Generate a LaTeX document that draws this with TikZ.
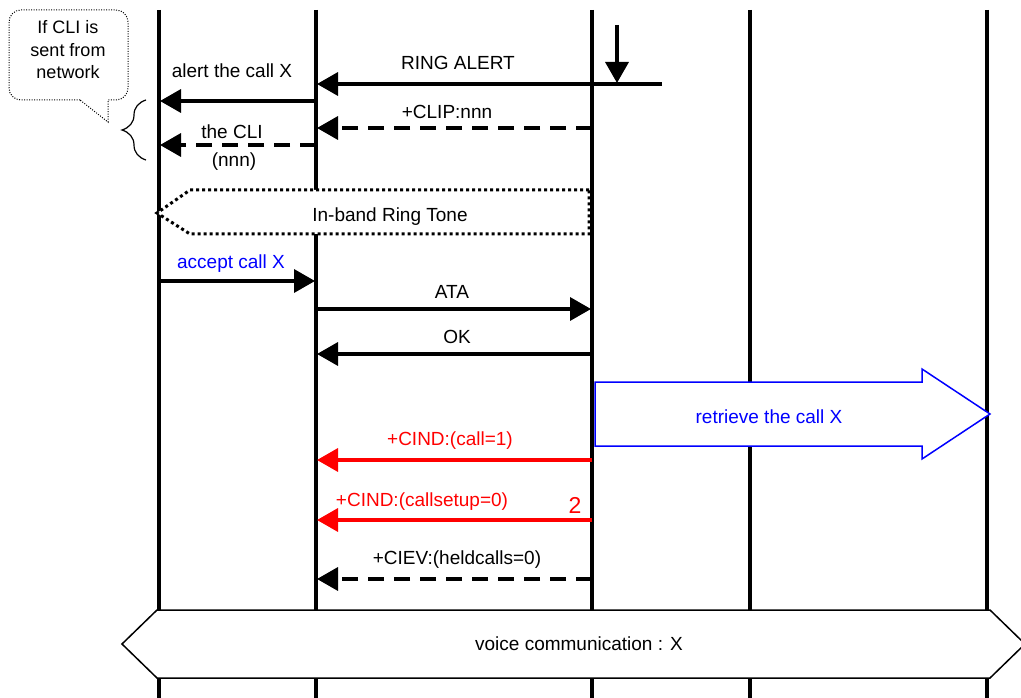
\documentclass[tikz,border=0pt]{standalone}
\usepackage{fontspec}
\setmainfont{Liberation Sans}
\usetikzlibrary{arrows.meta,decorations.pathreplacing}
\begin{document}
\begin{tikzpicture}[x=1pt,y=-1pt,
  life/.style={line width=4.5pt},
  msg/.style={line width=3.5pt,-{Triangle[length=21pt,width=23pt]},shorten >=1pt},
  dmsg/.style={msg,dash pattern=on 16pt off 10pt},
  redmsg/.style={msg,red},
  lbl/.style={font=\fontsize{19}{22}\selectfont,inner sep=0pt},
  dotbox/.style={line width=3pt,dash pattern=on 3pt off 3pt,fill=white},
  calloutline/.style={line width=1pt,dash pattern=on 1pt off 1.5pt,fill=white},
  bigarrow/.style={draw=blue,line width=1.5pt,fill=white},
  hexbox/.style={draw=black,line width=1.5pt,fill=white}]
\useasboundingbox (0,0) rectangle (1021,698);
% lifelines
\foreach \n/\x in {1/159,2/316,3/592,4/750,5/987}{
  \coordinate (T\n) at (\x,10);
  \coordinate (B\n) at (\x,698);
  \draw[life] (T\n) -- (B\n);
}
% callout
\draw[calloutline] (80,100) [rounded corners=12pt] -- (9,100) -- (9,10) -- (128,10) -- (128,100) [sharp corners] -- (108,100) -- (108,122) -- cycle;
\node[lbl,align=center,font=\fontsize{18}{22.5}\selectfont] (callout) at (68,50) {If CLI is\\sent from\\network};
% brace
\coordinate (brb) at (146,160);
\coordinate (brt) at (146,100);
\draw[line width=1.2pt,decorate,decoration={brace,amplitude=24pt}] (brb) -- (brt);
% RING ALERT
\coordinate (ra) at (662,84);
\draw[msg] (ra) -- (ra -| T2);
\coordinate (vt) at (617,25);
\draw[msg] (vt) -- (vt |- ra);
\node[lbl] (lra) at (458,63) {RING ALERT};
% alert the call X
\coordinate (m1) at (316,101);
\draw[msg] (m1) -- (m1 -| T1);
\node[lbl] (lm1) at (232,71) {alert the call X};
% +CLIP
\coordinate (m2) at (592,128);
\draw[dmsg] (m2) -- (m2 -| T2);
\node[lbl] (lm2) at (447,112) {+CLIP:nnn};
% the CLI
\coordinate (m3) at (316,145);
\draw[dmsg] (m3) -- (m3 -| T1);
\node[lbl] (lm3) at (232,132) {the CLI};
\node[lbl] (lm3b) at (234,162) {(nnn)};
% In-band ring tone
\draw[dotbox] (589,190) -- (190,190) -- (157,213) -- (190,234) -- (589,234) -- cycle;
\node[lbl] (libt) at (390,217) {In-band Ring Tone};
% accept call X
\coordinate (m4) at (159,281);
\draw[msg] (m4) -- (m4 -| T2);
\node[lbl,text=blue] (lm4) at (231,264) {accept call X};
% ATA
\coordinate (m5) at (316,309);
\draw[msg] (m5) -- (m5 -| T3);
\node[lbl] (lm5) at (452,292) {ATA};
% OK
\coordinate (m6) at (592,354);
\draw[msg] (m6) -- (m6 -| T2);
\node[lbl] (lm6) at (457,337) {OK};
% retrieve the call X
\draw[bigarrow] (595,382) -- (922,382) -- (922,369) -- (990,414) -- (922,459) -- (922,446) -- (595,446) -- cycle;
\node[lbl,text=blue] (lret) at (769,417) {retrieve the call X};
% +CIND call=1
\coordinate (m7) at (592,460);
\draw[redmsg] (m7) -- (m7 -| T2);
\node[lbl,text=red] (lm7) at (450,441) {+CIND:(call=1)};
% +CIND callsetup=0
\coordinate (m8) at (592,520);
\draw[redmsg] (m8) -- (m8 -| T2);
\node[lbl,text=red] (lm8) at (422,502) {+CIND:(callsetup=0)};
\node[lbl,text=red,font=\fontsize{23}{26}\selectfont] (ltwo) at (575,505) {2};
% +CIEV
\coordinate (m9) at (592,579);
\draw[dmsg] (m9) -- (m9 -| T2);
\node[lbl] (lm9) at (457,560) {+CIEV:(heldcalls=0)};
% voice communication
\draw[hexbox] (122,644) -- (157,610) -- (990,610) -- (1025,644) -- (990,678) -- (157,678) -- cycle;
\node[lbl] (lvc) at (579,644) {voice communication : X};
\end{tikzpicture}
\end{document}
